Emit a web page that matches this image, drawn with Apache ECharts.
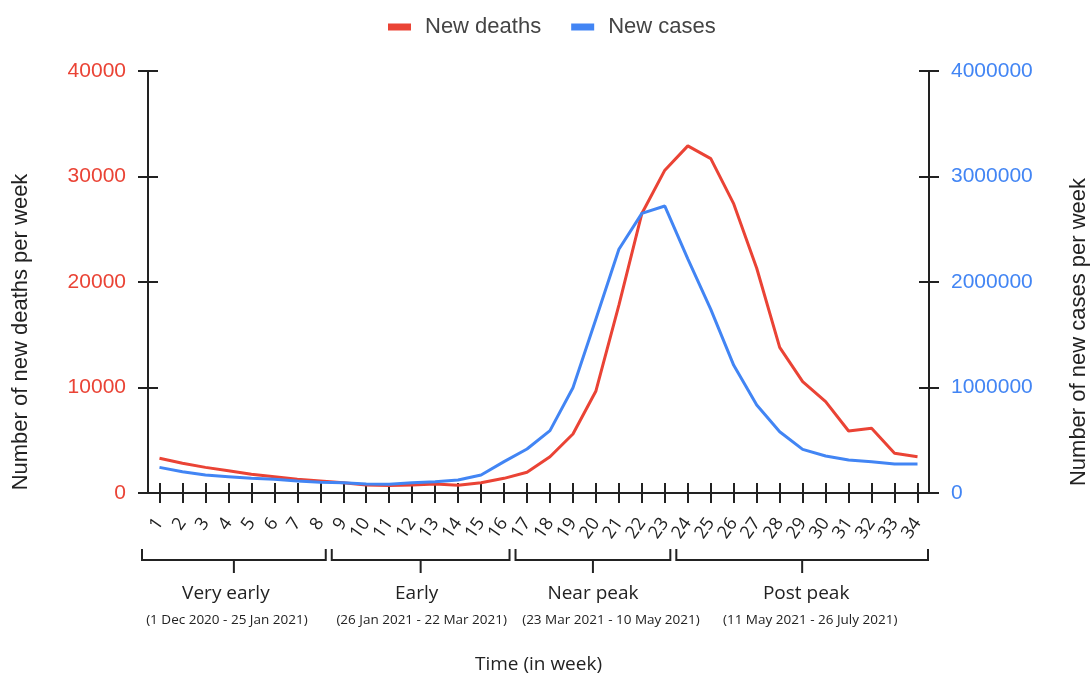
<!DOCTYPE html>
<html><head><meta charset="utf-8">
<script src="https://cdn.jsdelivr.net/npm/echarts@6/dist/echarts.min.js"></script>
<style>html,body{margin:0;padding:0;background:#fff}#c{width:1092px;height:675px}</style>
</head><body><div id="c"></div>
<script>
const weeks = ['1','2','3','4','5','6','7','8','9','10','11','12','13','14','15','16','17','18','19','20','21','22','23','24','25','26','27','28','29','30','31','32','33','34'];
const newDeaths = [3300, 2820, 2430, 2110, 1770, 1550, 1300, 1140, 980, 760, 700, 760, 850, 730, 980, 1390, 1960, 3440, 5590, 9670, 17800, 26500, 30600, 32900, 31700, 27400, 21300, 13800, 10550, 8660, 5880, 6130, 3760, 3440];
const newCases = [243000, 202000, 171000, 155000, 139000, 130000, 114000, 101000, 98000, 85000, 82000, 98000, 107000, 123000, 171000, 297000, 417000, 591000, 998000, 1650000, 2310000, 2650000, 2720000, 2220000, 1740000, 1210000, 834000, 581000, 414000, 351000, 313000, 297000, 275000, 275000];
const deathTicks = [0, 40000, 10000];   // min, max, interval
const caseTicks = [0, 4000000, 1000000];
const groupNames = ['Very early', 'Early', 'Near peak', 'Post peak'];
const groupDates = ['(1 Dec 2020 - 25 Jan 2021)', '(26 Jan 2021 - 22 Mar 2021)', '(23 Mar 2021 - 10 May 2021)', '(11 May 2021 - 26 July 2021)'];
const groupStart = ['1', '9', '17', '24'];
const groupEnd = ['8', '16', '23', '34'];

// layout-only nudges for the annotation texts (px)
const nameShift = [-8, -4, 0, 4];
const dateShift = [-7, 1, 18, 8];

const RED = '#ea4335', BLUE = '#4285f4', INK = '#222';
const chart = echarts.init(document.getElementById('c'), null, {renderer: 'canvas'});
const sans = 'Liberation Sans, Arial, sans-serif';
const axLine = {show: true, lineStyle: {color: INK, width: 2}};
const tickOut = {show: true, inside: false, length: 10, lineStyle: {color: INK, width: 2}};
const tickIn = {show: true, inside: true, length: 10, lineStyle: {color: INK, width: 2}};
const plain = v => String(v);

chart.setOption({
  animation: false,
  backgroundColor: '#fff',
  legend: {
    top: 11, left: 383, itemWidth: 23, itemHeight: 7, itemGap: 30, icon: 'rect',
    textStyle: {fontFamily: sans, fontSize: 22, color: '#444', padding: [0, 0, 0, 9]},
    data: ['New deaths', 'New cases']
  },
  grid: {left: 148, right: 163, top: 71, bottom: 182, containLabel: false, outerBoundsMode: 'none'},
  xAxis: [
    {type: 'category', data: weeks, boundaryGap: true,
     axisLine: axLine, axisTick: Object.assign({alignWithLabel: true}, tickOut),
     axisLabel: {rotate: 55, interval: 0, margin: 27, fontFamily: 'Open Sans, sans-serif', fontSize: 18, color: INK},
     name: 'Time (in week)', nameLocation: 'middle', nameGap: 162,
     nameTextStyle: {fontFamily: 'Open Sans, sans-serif', fontSize: 19, color: INK},
     splitLine: {show: false}},
    {type: 'category', data: weeks, boundaryGap: true, position: 'bottom',
     axisLine: {show: false}, axisTick: Object.assign({alignWithLabel: true}, tickIn),
     axisLabel: {show: false}, splitLine: {show: false}}
  ],
  yAxis: [
    {type: 'value', position: 'left', min: deathTicks[0], max: deathTicks[1], interval: deathTicks[2],
     axisLine: axLine, axisTick: tickOut, splitLine: {show: false},
     axisLabel: {margin: 22, fontFamily: sans, fontSize: 21, color: RED, formatter: plain},
     name: 'Number of new deaths per week', nameLocation: 'middle', nameGap: 116,
     nameTextStyle: {fontFamily: sans, fontSize: 22, color: INK, padding: [0, 100, 0, 0]}},
    {type: 'value', position: 'right', min: caseTicks[0], max: caseTicks[1], interval: caseTicks[2],
     axisLine: axLine, axisTick: tickOut, splitLine: {show: false},
     axisLabel: {margin: 22, fontFamily: sans, fontSize: 21, color: BLUE, formatter: plain},
     name: 'Number of new cases per week', nameLocation: 'middle', nameGap: 139,
     nameTextStyle: {fontFamily: sans, fontSize: 22, color: INK, padding: [0, 100, 0, 0]}},
    {type: 'value', position: 'left', min: deathTicks[0], max: deathTicks[1], interval: deathTicks[2],
     axisLine: {show: false}, axisTick: tickIn, axisLabel: {show: false}, splitLine: {show: false}},
    {type: 'value', position: 'right', min: caseTicks[0], max: caseTicks[1], interval: caseTicks[2],
     axisLine: {show: false}, axisTick: tickIn, axisLabel: {show: false}, splitLine: {show: false}}
  ],
  series: [
    {name: 'New deaths', type: 'line', data: newDeaths, yAxisIndex: 0, xAxisIndex: 0, symbol: 'none',
     lineStyle: {color: RED, width: 3}, itemStyle: {color: RED}, z: 3},
    {name: 'New cases', type: 'line', data: newCases, yAxisIndex: 1, xAxisIndex: 0, symbol: 'none',
     lineStyle: {color: BLUE, width: 3}, itemStyle: {color: BLUE}, z: 4}
  ]
});

// Bracket annotations positioned via the category axis scale
const px = c => chart.convertToPixel({xAxisIndex: 0}, c);
const band = px(weeks[1]) - px(weeks[0]);
const axisY = chart.convertToPixel({yAxisIndex: 0}, 0);
const graphics = [];
groupNames.forEach((nm, i) => {
  const x0 = px(groupStart[i]) - band / 2 + (i === 0 ? -6 : 0);
  const x1 = px(groupEnd[i]) + band / 2 - (i === groupNames.length - 1 ? 1 : 6);
  const xm = (x0 + x1) / 2;
  const yTop = axisY + 56, yBar = axisY + 67, yStem = axisY + 80;
  graphics.push({type: 'polyline', shape: {points: [[x0, yTop], [x0, yBar], [x1, yBar], [x1, yTop]]},
    style: {stroke: INK, lineWidth: 2, fill: null}});
  graphics.push({type: 'line', shape: {x1: xm, y1: yBar, x2: xm, y2: yStem},
    style: {stroke: INK, lineWidth: 2}});
  graphics.push({type: 'text', x: xm + nameShift[i], y: axisY + 101,
    style: {text: nm, font: '19px "Open Sans", sans-serif', fill: INK, align: 'center', verticalAlign: 'middle', textAlign: 'center', textVerticalAlign: 'middle'}});
  graphics.push({type: 'text', x: xm + dateShift[i], y: axisY + 127,
    style: {text: groupDates[i], font: '13.5px "Open Sans", sans-serif', fill: INK, align: 'center', verticalAlign: 'middle', textAlign: 'center', textVerticalAlign: 'middle'}});
});
chart.setOption({graphic: graphics});
</script></body></html>
